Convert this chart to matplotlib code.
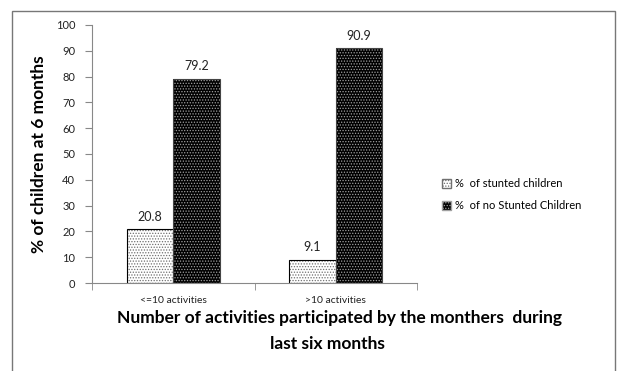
import matplotlib.pyplot as plt
import numpy as np
from matplotlib.patches import Rectangle

plt.rcParams['font.family'] = ['Lato', 'DejaVu Sans']
plt.rcParams['hatch.linewidth'] = 0.6

categories = ["<=10 activities", ">10 activities"]
stunted = [20.8, 9.1]
no_stunted = [79.2, 90.9]
series_names = ["%  of stunted children", "%  of no Stunted Children"]

fig = plt.figure(figsize=(6.17, 3.71), dpi=100)
ax = fig.add_axes([0.149, 0.237, 0.527, 0.696])

x = np.arange(len(categories))
w = 0.286

# light dotted bars
ax.bar(x - w / 2, stunted, w, color="white", edgecolor="#707070", hatch="......", linewidth=0)
ax.bar(x - w / 2, stunted, w, fill=False, edgecolor="black", linewidth=0.8)
# dark bars with white dots
ax.bar(x + w / 2, no_stunted, w, color="black", edgecolor="#a0a0a0", hatch="......", linewidth=0)
ax.bar(x + w / 2, no_stunted, w, fill=False, edgecolor="#444444", linewidth=0.8)

for xi, v in zip(x - w / 2, stunted):
    ax.text(xi, v + 2.5, f"{v}", ha="center", va="bottom", fontsize=9, color="#222222")
for xi, v in zip(x + w / 2, no_stunted):
    ax.text(xi, v + 2.5, f"{v}", ha="center", va="bottom", fontsize=9, color="#222222")

ax.set_xlim(-0.5, 1.5)
ax.set_ylim(0, 100)
ax.set_yticks(range(0, 101, 10))
ax.set_xticks(x)
ax.set_xticklabels(categories, fontsize=7.5, color="#222222")
ax.set_xticks([-0.5, 0.5, 1.5], minor=True)
ax.tick_params(axis="x", which="major", length=0, pad=9)
ax.tick_params(axis="x", which="minor", length=5, color="#888888", direction="out")
ax.tick_params(axis="y", labelsize=8, labelcolor="#222222", length=5, color="#888888", pad=7)

for s in ["top", "right"]:
    ax.spines[s].set_visible(False)
ax.spines["left"].set_color("#888888")
ax.spines["bottom"].set_color("#888888")

ax.set_ylabel("% of children at 6 months", fontsize=12.5, fontweight="bold", labelpad=6)
fig.text(0.551, 1 - 318 / 371, "Number of activities participated by the monthers  during",
         ha="center", va="center", fontsize=12.5, fontweight="bold")
fig.text(0.53, 1 - 344 / 371, "last six months", ha="center", va="center",
         fontsize=12.5, fontweight="bold")

handles = [Rectangle((0, 0), 1, 1, facecolor="white", edgecolor="#707070", hatch="......"),
           Rectangle((0, 0), 1, 1, facecolor="black", edgecolor="#a0a0a0", hatch="......")]
fig.legend(handles, series_names, loc="center left", bbox_to_anchor=(0.7, 0.475),
           frameon=False, fontsize=8, handlelength=0.8, handleheight=0.8,
           handletextpad=0.4, labelspacing=1.0)

# chart border
fig.patches.append(Rectangle((12 / 617, -0.01), 603 / 617, 1 - 11 / 371 + 0.01,
                             transform=fig.transFigure, fill=False,
                             edgecolor="#777777", linewidth=1))

fig.savefig("out.png", dpi=100)
